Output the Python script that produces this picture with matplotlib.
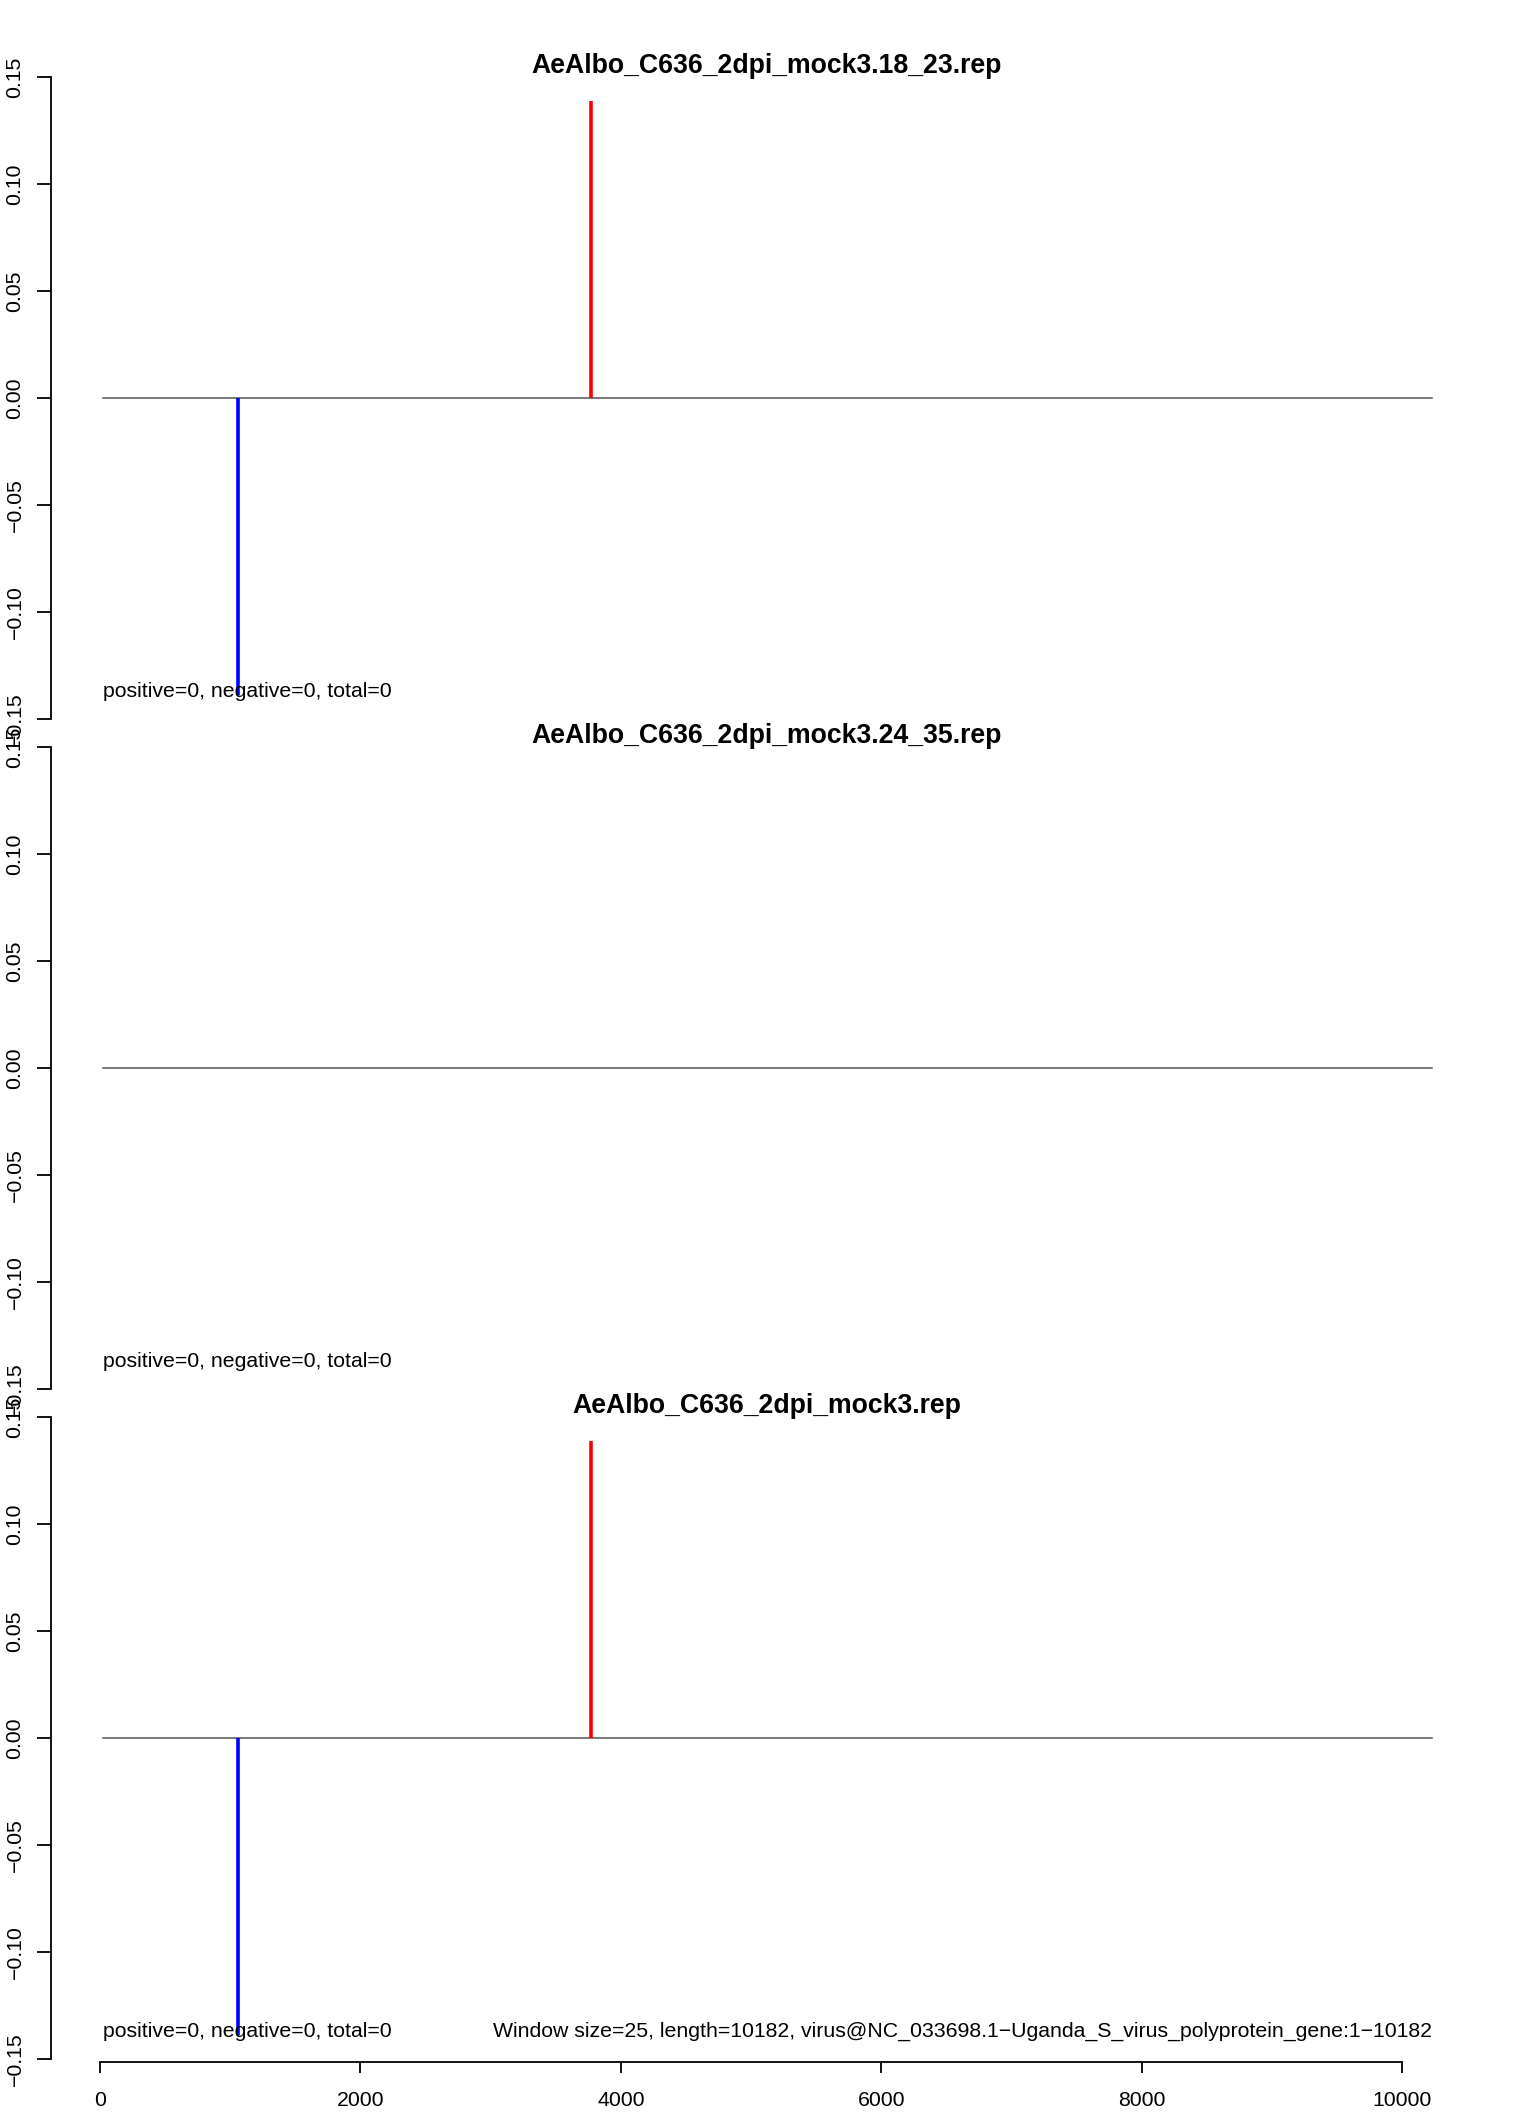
import matplotlib
matplotlib.use('Agg')
import matplotlib.pyplot as plt

plt.rcParams['font.family'] = ['Liberation Sans', 'DejaVu Sans']

# datos de cada panel
titulos = ['AeAlbo_C636_2dpi_mock3.18_23.rep',
           'AeAlbo_C636_2dpi_mock3.24_35.rep',
           'AeAlbo_C636_2dpi_mock3.rep']
pos_x = [[3770], [], [3770]]
pos_y = [[0.139], [], [0.139]]
neg_x = [[1063], [], [1063]]
neg_y = [[-0.139], [], [-0.139]]
conteos = ['positive=0, negative=0, total=0'] * 3
pie = 'Window size=25, length=10182, virus@NC_033698.1\u2212Uganda_S_virus_polyprotein_gene:1\u221210182'
largo = 10182
yticks = [-0.15, -0.10, -0.05, 0.00, 0.05, 0.10, 0.15]
xticks = [0, 2000, 4000, 6000, 8000, 10000]

W, H = 1536, 2112
fig = plt.figure(figsize=(W / 100, H / 100), dpi=100)

izq, der = 51, 1475
centros = [398, 1068, 1738]
alto = 670
escala = 2140.0
xlim = (-376, 10560)
fs = 15.3

def etiqueta(v):
    return ('%.2f' % v).replace('-', '\u2212')

for i in range(3):
    top = centros[i] - alto / 2
    ax = fig.add_axes([izq / W, 1 - (top + alto) / H, (der - izq) / W, alto / H])
    ax.set_xlim(xlim)
    lim = alto / 2 / escala
    ax.set_ylim(-lim, lim)
    ax.patch.set_alpha(0)

    # linea del cero
    ax.plot([25, 10230], [0, 0], color='#555555', lw=1.1, zorder=1)
    if pos_x[i]:
        ax.vlines(pos_x[i], 0, pos_y[i], color='#ff0000', lw=2.6, zorder=2)
    if neg_x[i]:
        ax.vlines(neg_x[i], neg_y[i], 0, color='#0000ff', lw=2.6, zorder=2)

    ax.text(25, -0.137, conteos[i], fontsize=fs, ha='left', va='center')
    ax.text(5120, lim - 3 / escala, titulos[i], fontsize=19.2, fontweight='bold',
            ha='center', va='center')

    for s in ['top', 'right']:
        ax.spines[s].set_visible(False)
    ax.spines['left'].set_bounds(-0.15, 0.15)
    ax.spines['left'].set_linewidth(1.3)
    ax.set_yticks(yticks)
    ax.set_yticklabels([etiqueta(v) for v in yticks], rotation=90, va='center', fontsize=fs)
    ax.tick_params(axis='y', length=10, width=1.3, pad=9)

    if i < 2:
        ax.spines['bottom'].set_visible(False)
        ax.set_xticks([])
    else:
        ax.text(10230, -0.137, pie, fontsize=fs, ha='right', va='center')
        ax.spines['bottom'].set_position(('data', (centros[i] - 2062) / escala))
        ax.spines['bottom'].set_bounds(0, 10000)
        ax.spines['bottom'].set_linewidth(1.3)
        ax.set_xticks(xticks)
        ax.set_xticklabels([str(v) for v in xticks], fontsize=fs)
        ax.tick_params(axis='x', length=8, width=1.3, pad=13)

fig.savefig('out.png', dpi=100)
